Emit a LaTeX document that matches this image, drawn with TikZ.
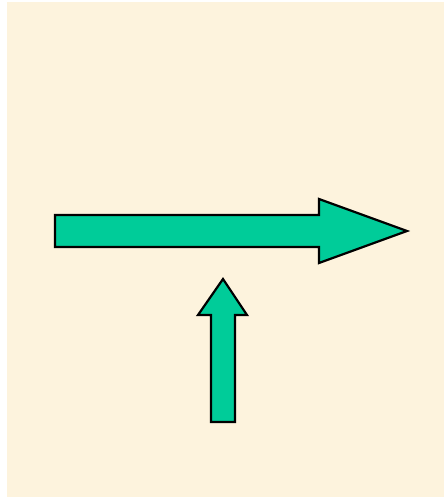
\documentclass[tikz,border=0pt]{standalone}
\begin{document}
\begin{tikzpicture}[x=1pt,y=-1pt,
  bigarrow/.style={fill=arrowgreen,draw=black,line width=2.2pt,line join=miter}]
\definecolor{arrowgreen}{RGB}{0,204,153}
\definecolor{paper}{RGB}{253,243,221}
\useasboundingbox (0,0) rectangle (444,499);
\fill[white] (0,0) rectangle (444,499);
\fill[paper] (7,2) rectangle (444,497);
% horizontal arrow
\draw[bigarrow] (55,215) -- (319,215) -- (319,199) -- (407,231) -- (319,263) -- (319,247) -- (55,247) -- cycle;
% vertical arrow
\draw[bigarrow] (211,422) -- (211,315) -- (198,315) -- (223,279) -- (247,315) -- (235,315) -- (235,422) -- cycle;
\end{tikzpicture}
\end{document}
